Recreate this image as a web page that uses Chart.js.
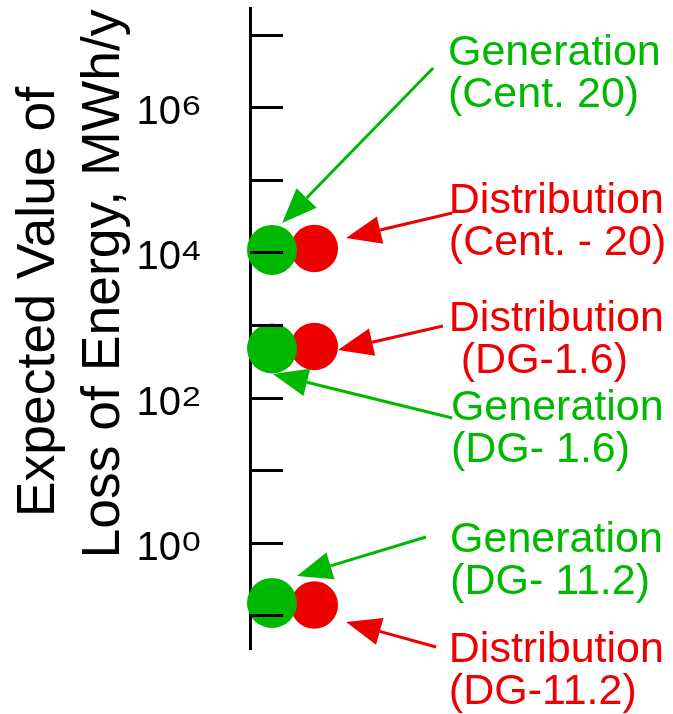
<!DOCTYPE html>
<html>
<head>
<meta charset="utf-8">
<script src="https://cdn.jsdelivr.net/npm/chart.js@4.4.1/dist/chart.umd.min.js"></script>
<style>
  html, body { margin: 0; padding: 0; background: #fff; }
  #wrap { width: 673px; height: 714px; }
</style>
</head>
<body>
<div id="wrap"><canvas id="chart" width="673" height="714"></canvas></div>
<script>
const cases = ["Cent. 20", "DG-1.6", "DG-11.2"];
const generation = [1.08e4, 473, 0.148];
const distribution = [1.13e4, 504, 0.139];
const tickValues = [1e-1, 1e0, 1e1, 1e2, 1e3, 1e4, 1e5, 1e6, 1e7];
const labelExponents = [0, 2, 4, 6];
const axisTitle = ["Expected Value of", "Loss of Energy, MWh/y"];

const GREEN = "#00b800";
const RED = "#ee0000";
const FONT = "'Liberation Sans', Arial, sans-serif";

// x is a hidden 0..100 scale, just to put the two columns side by side
const genX = 5.2;
const distX = 15.2;

// callouts: text anchor, arrow tail and tip, all in chart units (x, MWh/y)
const notes = [
  { lines: ["Generation", "(Cent. 20)"], color: GREEN, at: [46.8, 3.8e6], tail: [43.3, 3.46e6], tip: [7.6, 2.53e4] },
  { lines: ["Distribution", "(Cent. - 20)"], color: RED, at: [47.0, 3.47e4], tail: [47.8, 3.47e4], tip: [22.7, 1.57e4] },
  { lines: ["Distribution", " (DG-1.6)"], color: RED, at: [47.0, 824], tail: [45.6, 966], tip: [20.8, 451] },
  { lines: ["Generation", "(DG- 1.6)"], color: GREEN, at: [47.5, 49.0], tail: [47.8, 52.2], tip: [5.4, 211] },
  { lines: ["Generation", "(DG- 11.2)"], color: GREEN, at: [47.3, 0.745], tail: [41.6, 1.2], tip: [11.1, 0.348] },
  { lines: ["Distribution", "(DG-11.2)"], color: RED, at: [47.0, 0.0228], tail: [44.0, 0.0366], tip: [22.7, 0.0809] },
];

function arrow(ctx, x0, y0, x1, y1, color) {
  const a = Math.atan2(y1 - y0, x1 - x0);
  const len = 35, half = 14;
  const bx = x1 - len * Math.cos(a), by = y1 - len * Math.sin(a);
  ctx.strokeStyle = color;
  ctx.fillStyle = color;
  ctx.lineWidth = 3;
  ctx.beginPath();
  ctx.moveTo(x0, y0);
  ctx.lineTo(bx, by);
  ctx.stroke();
  ctx.beginPath();
  ctx.moveTo(x1, y1);
  ctx.lineTo(bx + half * Math.sin(a), by - half * Math.cos(a));
  ctx.lineTo(bx - half * Math.sin(a), by + half * Math.cos(a));
  ctx.closePath();
  ctx.fill();
}

const decorations = {
  id: "decorations",
  afterDraw(chart) {
    const ctx = chart.ctx;
    const xs = chart.scales.x, ys = chart.scales.y;
    const left = chart.chartArea.left;
    ctx.save();

    // ticks point inward, into the plot
    ctx.strokeStyle = "#000";
    ctx.lineWidth = 3;
    tickValues.forEach(v => {
      const py = Math.round(ys.getPixelForValue(v)) + 0.5;
      ctx.beginPath();
      ctx.moveTo(left, py);
      ctx.lineTo(left + 33, py);
      ctx.stroke();
    });

    // 10^n labels
    ctx.fillStyle = "#000";
    labelExponents.forEach(e => {
      const py = ys.getPixelForValue(Math.pow(10, e));
      ctx.font = "40px " + FONT;
      ctx.textAlign = "right";
      ctx.fillText("10", left - 69, py + 17);
      ctx.save();
      ctx.translate(left - 68, py + 8);
      ctx.scale(1.25, 1);
      ctx.font = "27px " + FONT;
      ctx.textAlign = "left";
      ctx.fillText(String(e), 0, 0);
      ctx.restore();
    });

    // axis title, two rotated lines
    ctx.font = "53.5px " + FONT;
    ctx.textAlign = "center";
    [[axisTitle[0], 53.5, 302], [axisTitle[1], 118.5, 284]].forEach(([t, bx, cy]) => {
      ctx.save();
      ctx.translate(bx, cy);
      ctx.rotate(-Math.PI / 2);
      ctx.fillText(t, 0, 0);
      ctx.restore();
    });

    // callouts
    notes.forEach(n => {
      arrow(ctx,
        xs.getPixelForValue(n.tail[0]), ys.getPixelForValue(n.tail[1]),
        xs.getPixelForValue(n.tip[0]), ys.getPixelForValue(n.tip[1]), n.color);
      ctx.fillStyle = n.color;
      ctx.font = "43px " + FONT;
      ctx.textAlign = "left";
      const tx = xs.getPixelForValue(n.at[0]);
      const ty = ys.getPixelForValue(n.at[1]);
      n.lines.forEach((line, i) => ctx.fillText(line, tx, ty + i * 42));
    });

    ctx.restore();
  }
};

new Chart(document.getElementById("chart"), {
  type: "scatter",
  data: {
    datasets: [
      {
        label: "Generation",
        data: cases.map((c, i) => ({ x: genX, y: generation[i] })),
        pointBackgroundColor: GREEN,
        pointBorderWidth: 0,
        pointRadius: 25,
        pointHoverRadius: 25,
        clip: false,
      },
      {
        label: "Distribution",
        data: cases.map((c, i) => ({ x: distX, y: distribution[i] })),
        pointBackgroundColor: RED,
        pointBorderColor: "#fff",
        pointBorderWidth: 1.5,
        pointRadius: 24.5,
        pointHoverRadius: 24.5,
        clip: false,
      },
    ],
  },
  options: {
    responsive: false,
    animation: false,
    devicePixelRatio: 1,
    events: [],
    layout: { autoPadding: false, padding: { top: 8, bottom: 66, left: 0, right: 0 } },
    plugins: { legend: { display: false }, tooltip: { enabled: false } },
    scales: {
      x: { type: "linear", display: false, min: 0, max: 100 },
      y: {
        type: "logarithmic",
        min: Math.pow(10, -1.45),
        max: Math.pow(10, 7.365),
        z: 1,
        afterFit: (s) => { s.width = 250; },
        afterBuildTicks: (s) => { s.ticks = tickValues.map(v => ({ value: v })); },
        ticks: { display: false },
        grid: { display: true, drawOnChartArea: false, drawTicks: false, lineWidth: 3 },
        border: { display: true, color: "#000", width: 3 },
      },
    },
  },
  plugins: [decorations],
});
</script>
</body>
</html>
